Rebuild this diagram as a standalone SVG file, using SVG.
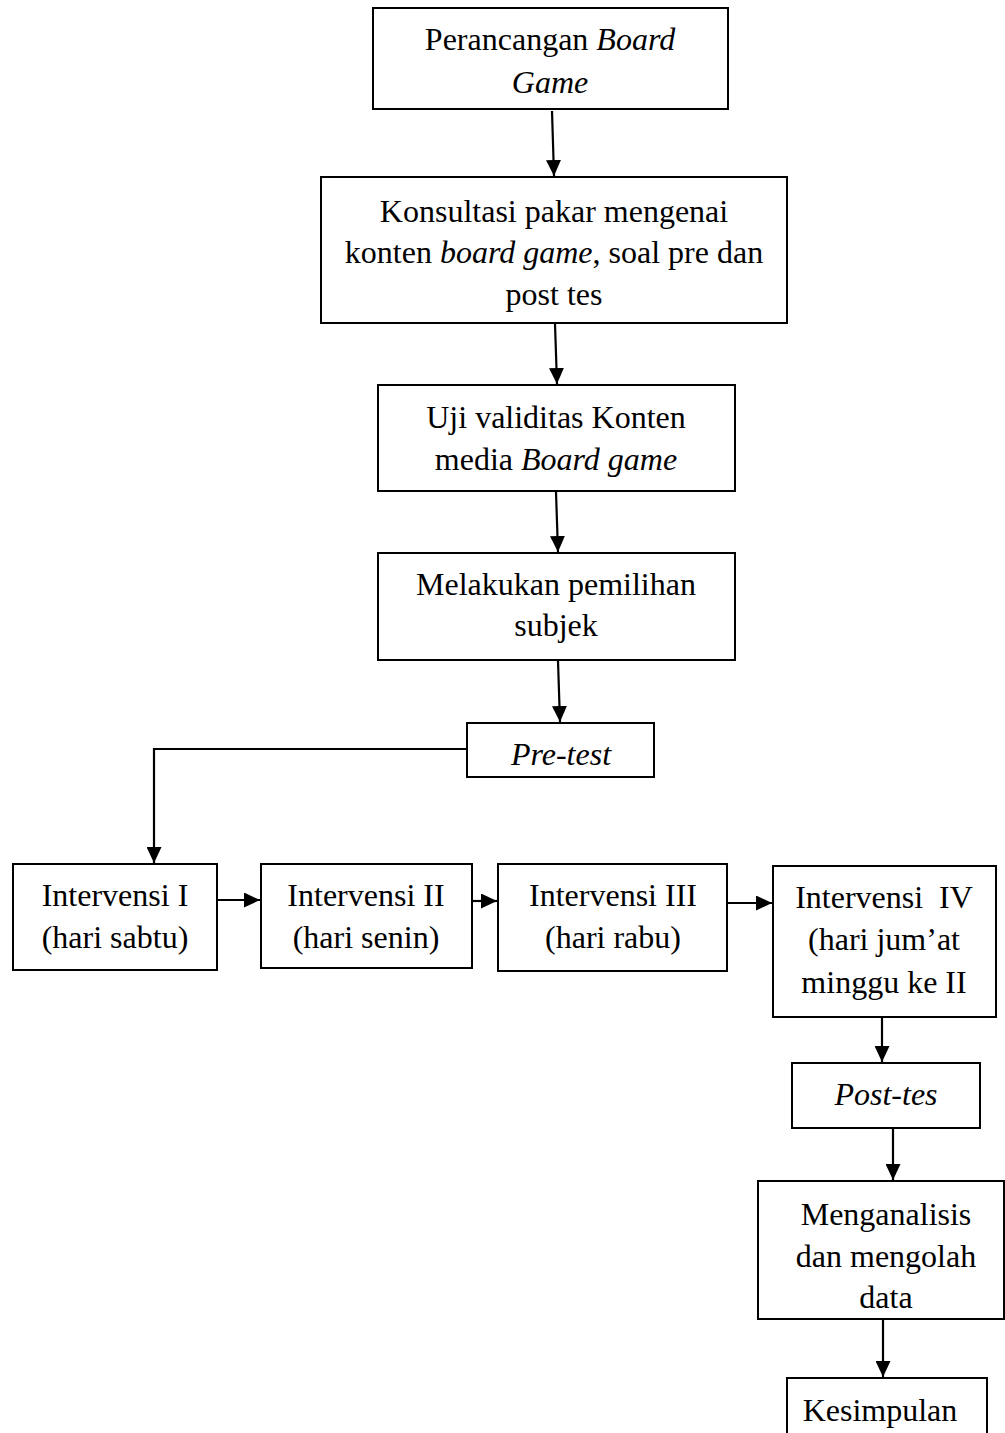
<svg xmlns="http://www.w3.org/2000/svg" width="1005" height="1433" viewBox="0 0 1005 1433">
<style>
.box{fill:#fff;stroke:#000;stroke-width:2}
.t{font-family:"Liberation Serif","Times New Roman",serif;font-size:32px;fill:#000;text-anchor:middle}
.i{font-style:italic}
.c{fill:none;stroke:#000;stroke-width:2.2}
</style>
<defs>
<marker id="ah" markerUnits="userSpaceOnUse" markerWidth="16" markerHeight="15" refX="16" refY="7.5" orient="auto">
<path d="M0,0 L16,7.5 L0,15 Z" fill="#000"/>
</marker>
</defs>
<rect width="1005" height="1433" fill="#fff"/>
<g id="connectors">
<path class="c" d="M552,111 L554,176" marker-end="url(#ah)"/>
<path class="c" d="M555,324 L557,384" marker-end="url(#ah)"/>
<path class="c" d="M556,492 L558,552" marker-end="url(#ah)"/>
<path class="c" d="M558,661 L560,722" marker-end="url(#ah)"/>
<path class="c" d="M467,749 L154,749 L154,863" marker-end="url(#ah)"/>
<path class="c" d="M218,900 L260,900" marker-end="url(#ah)"/>
<path class="c" d="M473,901 L497,901" marker-end="url(#ah)"/>
<path class="c" d="M728,903 L772,903" marker-end="url(#ah)"/>
<path class="c" d="M882,1018 L882,1062" marker-end="url(#ah)"/>
<path class="c" d="M893,1129 L893,1180" marker-end="url(#ah)"/>
<path class="c" d="M883,1320 L883,1377" marker-end="url(#ah)"/>
</g>
<g id="n1"><rect class="box" x="373" y="8" width="355" height="101"/>
<text class="t" x="550" y="50">Perancangan <tspan class="i">Board</tspan></text>
<text class="t i" x="550" y="93">Game</text></g>
<g id="n2"><rect class="box" x="321" y="177" width="466" height="146"/>
<text class="t" x="554" y="222">Konsultasi pakar mengenai</text>
<text class="t" x="554" y="263">konten <tspan class="i">board game</tspan>, soal pre dan</text>
<text class="t" x="554" y="305">post tes</text></g>
<g id="n3"><rect class="box" x="378" y="385" width="357" height="106"/>
<text class="t" x="556" y="428">Uji validitas Konten</text>
<text class="t" x="556" y="470">media <tspan class="i">Board game</tspan></text></g>
<g id="n4"><rect class="box" x="378" y="553" width="357" height="107"/>
<text class="t" x="556" y="595">Melakukan pemilihan</text>
<text class="t" x="556" y="636">subjek</text></g>
<g id="n5"><rect class="box" x="467" y="723" width="187" height="54"/>
<text class="t i" x="561" y="765">Pre-test</text></g>
<g id="n6"><rect class="box" x="13" y="864" width="204" height="106"/>
<text class="t" x="115" y="906">Intervensi I</text>
<text class="t" x="115" y="948">(hari sabtu)</text></g>
<g id="n7"><rect class="box" x="261" y="864" width="211" height="104"/>
<text class="t" x="366" y="906">Intervensi II</text>
<text class="t" x="366" y="948">(hari senin)</text></g>
<g id="n8"><rect class="box" x="498" y="864" width="229" height="107"/>
<text class="t" x="613" y="906">Intervensi III</text>
<text class="t" x="613" y="948">(hari rabu)</text></g>
<g id="n9"><rect class="box" x="773" y="866" width="223" height="151"/>
<text class="t" x="884" y="908" xml:space="preserve">Intervensi  IV</text>
<text class="t" x="884" y="950">(hari jum’at</text>
<text class="t" x="884" y="993">minggu ke II</text></g>
<g id="n10"><rect class="box" x="792" y="1063" width="188" height="65"/>
<text class="t i" x="886" y="1105">Post-tes</text></g>
<g id="n11"><rect class="box" x="758" y="1181" width="246" height="138"/>
<text class="t" x="886" y="1225">Menganalisis</text>
<text class="t" x="886" y="1267">dan mengolah</text>
<text class="t" x="886" y="1308">data</text></g>
<g id="n12"><rect class="box" x="787" y="1378" width="200" height="70"/>
<text class="t" x="880" y="1421">Kesimpulan</text></g>
</svg>
